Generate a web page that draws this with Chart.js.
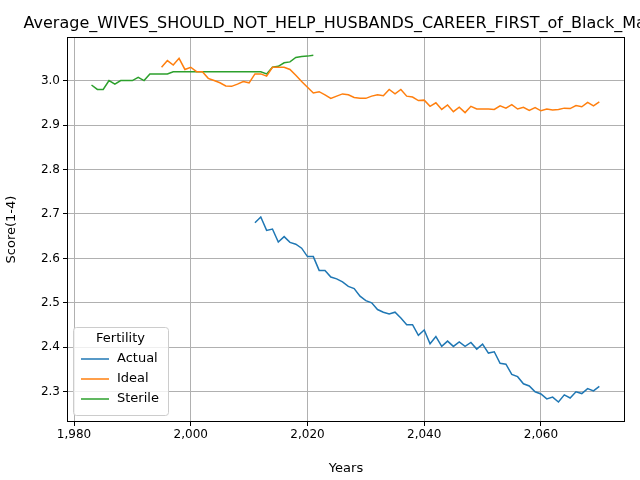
<!DOCTYPE html>
<html><head><meta charset="utf-8">
<script src="https://cdn.jsdelivr.net/npm/chart.js@4"></script>
<style>body{margin:0;background:#fff}#c{display:block}</style>
</head><body>
<canvas id="c" width="640" height="480"></canvas>
<script>
const actualYears = [2011,2012,2013,2014,2015,2016,2017,2018,2019,2020,2021,2022,2023,2024,2025,2026,2027,2028,2029,2030,2031,2032,2033,2034,2035,2036,2037,2038,2039,2040,2041,2042,2043,2044,2045,2046,2047,2048,2049,2050,2051,2052,2053,2054,2055,2056,2057,2058,2059,2060,2061,2062,2063,2064,2065,2066,2067,2068,2069,2070];
const actualValues = [2.680,2.693,2.663,2.666,2.637,2.649,2.636,2.632,2.623,2.604,2.604,2.573,2.573,2.558,2.554,2.547,2.537,2.532,2.515,2.505,2.500,2.485,2.479,2.475,2.479,2.466,2.451,2.451,2.427,2.439,2.408,2.424,2.402,2.414,2.402,2.412,2.402,2.411,2.396,2.407,2.387,2.390,2.364,2.362,2.339,2.334,2.318,2.313,2.300,2.295,2.284,2.288,2.277,2.293,2.286,2.300,2.296,2.307,2.302,2.312];
const idealYears = [1995,1996,1997,1998,1999,2000,2001,2002,2003,2004,2005,2006,2007,2008,2009,2010,2011,2012,2013,2014,2015,2016,2017,2018,2019,2020,2021,2022,2023,2024,2025,2026,2027,2028,2029,2030,2031,2032,2033,2034,2035,2036,2037,2038,2039,2040,2041,2042,2043,2044,2045,2046,2047,2048,2049,2050,2051,2052,2053,2054,2055,2056,2057,2058,2059,2060,2061,2062,2063,2064,2065,2066,2067,2068,2069,2070];
const idealValues = [3.030,3.045,3.035,3.050,3.025,3.030,3.020,3.020,3.005,3.000,2.995,2.988,2.987,2.992,2.998,2.995,3.015,3.015,3.010,3.030,3.030,3.030,3.025,3.012,2.998,2.985,2.972,2.975,2.968,2.960,2.965,2.970,2.968,2.962,2.960,2.960,2.965,2.968,2.966,2.980,2.970,2.980,2.965,2.963,2.955,2.956,2.942,2.950,2.935,2.945,2.930,2.940,2.928,2.942,2.936,2.936,2.936,2.935,2.943,2.938,2.946,2.936,2.940,2.933,2.939,2.932,2.936,2.934,2.935,2.938,2.937,2.944,2.941,2.951,2.943,2.952];
const sterileYears = [1983,1984,1985,1986,1987,1988,1989,1990,1991,1992,1993,1994,1995,1996,1997,1998,1999,2000,2001,2002,2003,2004,2005,2006,2007,2008,2009,2010,2011,2012,2013,2014,2015,2016,2017,2018,2019,2020,2021];
const sterileValues = [2.990,2.980,2.980,3.000,2.992,3.000,3.000,3.000,3.007,3.000,3.015,3.015,3.015,3.015,3.020,3.020,3.020,3.020,3.020,3.020,3.020,3.020,3.020,3.020,3.020,3.020,3.020,3.020,3.020,3.020,3.015,3.030,3.032,3.040,3.042,3.052,3.054,3.055,3.057];
const xTicks = [1980,2000,2020,2040,2060];
const yTicks = [2.3,2.4,2.5,2.6,2.7,2.8,2.9,3.0];

const pts=(xs,ys)=>xs.map((x,i)=>({x,y:ys[i]}));
const F='DejaVu Sans';
const series=[
 {label:'Actual',data:pts(actualYears,actualValues),borderColor:'#1f77b4'},
 {label:'Ideal',data:pts(idealYears,idealValues),borderColor:'#ff7f0e'},
 {label:'Sterile',data:pts(sterileYears,sterileValues),borderColor:'#2ca02c'}
].map(d=>Object.assign(d,{borderWidth:1.5,pointRadius:0,fill:false,tension:0}));

const deco={id:'deco',afterDraw(ch){
 const c=ch.ctx,a=ch.chartArea;
 c.save();
 c.strokeStyle='#000';c.lineWidth=1;
 c.strokeRect(a.left+0.5,a.top+0.5,a.right-a.left-1,a.bottom-a.top-1);
 c.fillStyle='#000';c.font='16px '+F;c.textAlign='center';c.textBaseline='alphabetic';
 c.fillText('Average_WIVES_SHOULD_NOT_HELP_HUSBANDS_CAREER_FIRST_of_Black_Males',(a.left+a.right)/2,a.top-9);
 // legend
 const lx=73,ly=327,w=95,h=88;
 c.fillStyle='rgba(255,255,255,0.8)';c.strokeStyle='#ccc';
 c.beginPath();c.roundRect(lx+0.5,ly+0.5,w,h,3);c.fill();c.stroke();
 c.fillStyle='#000';c.font='13px '+F;c.textAlign='center';c.textBaseline='middle';
 c.fillText('Fertility',lx+w/2,ly+12);
 c.textAlign='left';
 series.forEach((s,i)=>{const y=ly+32+i*20;
  c.strokeStyle=s.borderColor;c.lineWidth=1.5;c.beginPath();c.moveTo(lx+8,y);c.lineTo(lx+36,y);c.stroke();
  c.fillStyle='#000';c.fillText(s.label,lx+44,y);});
 c.restore();}};

new Chart(document.getElementById('c'),{type:'line',data:{datasets:series},
 options:{responsive:false,animation:false,devicePixelRatio:1,
  layout:{padding:{top:37,right:15,left:0,bottom:0}},
  plugins:{legend:{display:false},tooltip:{enabled:false}},
  scales:{
   x:{type:'linear',min:1978.8,max:2074.4,
    afterBuildTicks:s=>{s.ticks=xTicks.map(v=>({value:v}));},
    afterFit:s=>{s.height=58;},
    grid:{color:'#b0b0b0',lineWidth:1,drawTicks:true,tickLength:4,tickColor:'#000'},
    border:{display:false},
    ticks:{color:'#000',font:{family:F,size:12},maxRotation:0,padding:2},
    title:{display:true,text:'Years',color:'#000',font:{family:F,size:13},padding:{top:2}}},
   y:{min:2.232,max:3.098,
    afterBuildTicks:s=>{s.ticks=yTicks.map(v=>({value:v}));},
    afterFit:s=>{s.width=67;},
    grid:{color:'#b0b0b0',lineWidth:1,tickLength:4,tickColor:'#000'},
    border:{display:false},
    ticks:{color:'#000',font:{family:F,size:12},padding:3,callback:v=>v.toFixed(1)},
    title:{display:true,text:'Score(1-4)',color:'#000',font:{family:F,size:13},padding:{bottom:2}}}
  }},plugins:[deco]});
</script>
</body></html>
